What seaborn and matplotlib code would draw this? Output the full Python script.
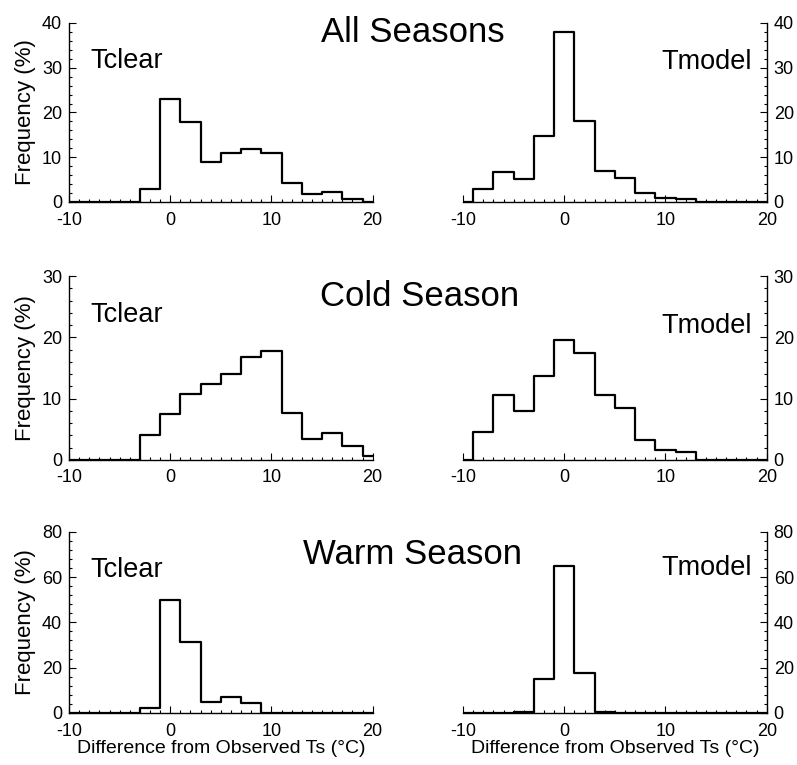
import numpy as np
import pandas as pd
import matplotlib
matplotlib.use("Agg")
import matplotlib.pyplot as plt
from matplotlib.ticker import MultipleLocator
import seaborn as sns

# bin centres (2 degree bins)
centers = [-10, -8, -6, -4, -2, 0, 2, 4, 6, 8, 10, 12, 14, 16, 18, 20]

all_tclear = [0, 0, 0, 0, 2.8, 23.1, 17.9, 9.0, 11.0, 11.8, 11.0, 4.3, 1.7, 2.2, 0.7, 0]
all_tmodel = [0, 2.8, 6.7, 5.1, 14.8, 38.0, 18.2, 7.0, 5.3, 2.0, 0.9, 0.6, 0, 0, 0, 0]
cold_tclear = [0, 0, 0, 0, 4.0, 7.5, 10.7, 12.3, 14.0, 16.8, 17.7, 7.7, 3.4, 4.4, 2.2, 0.6]
cold_tmodel = [0, 4.5, 10.6, 7.9, 13.7, 19.6, 17.5, 10.6, 8.5, 3.3, 1.6, 1.3, 0, 0, 0, 0]
warm_tclear = [0, 0, 0, 0, 2.4, 50.0, 31.3, 4.7, 7.2, 4.4, 0, 0, 0, 0, 0, 0]
warm_tmodel = [0, 0, 0, 0.3, 15.1, 65.0, 17.6, 0.3, 0, 0, 0, 0, 0, 0, 0, 0]

titles = ["All Seasons", "Cold Season", "Warm Season"]
ymax = [40, 30, 80]
ystep = [10, 10, 20]

sns.set_style("ticks")
plt.rcParams['font.family'] = ['Liberation Sans', 'DejaVu Sans']
plt.rcParams['axes.unicode_minus'] = False
for k in ['text.color', 'axes.labelcolor', 'xtick.color', 'ytick.color', 'axes.edgecolor']:
    plt.rcParams[k] = 'black'

fig = plt.figure(figsize=(7.97, 7.65), dpi=100)

rows = [(0.736, 0.234), (0.399, 0.240), (0.068, 0.237)]
left_x = 0.0866
right_x = 0.581
w = 0.381

series = [(all_tclear, all_tmodel), (cold_tclear, cold_tmodel), (warm_tclear, warm_tmodel)]
bins = list(range(-11, 22, 2))
title_pos = [(0.518, 0.958), (0.526, 0.612), (0.518, 0.275)]
tmodel_y = [0.74, 0.69, 0.76]

for i in range(3):
    y0, h = rows[i]
    for j in range(2):
        ax = fig.add_axes([left_x if j == 0 else right_x, y0, w, h])
        df = pd.DataFrame({"x": centers, "f": series[i][j]})
        sns.histplot(data=df, x="x", weights="f", bins=bins, element="step",
                     fill=False, color="black", linewidth=1.6, ax=ax)
        ax.set_xlim(-10, 20)
        ax.set_ylim(0, ymax[i])
        ax.set_yticks(np.arange(0, ymax[i] + 1, ystep[i]))
        ax.set_xticks([-10, 0, 10, 20])
        ax.xaxis.set_minor_locator(MultipleLocator(1))
        ax.yaxis.set_minor_locator(MultipleLocator(ystep[i] / 5))
        ax.tick_params(which="both", direction="in", labelsize=13, width=0.8)
        ax.tick_params(which="major", length=5)
        ax.tick_params(which="minor", length=2.5)
        ax.tick_params(axis="x", pad=7)
        ax.tick_params(axis="y", pad=5)
        ax.set_xlabel("")
        ax.set_ylabel("")
        for s in ax.spines.values():
            s.set_linewidth(1.0)
        ax.spines["top"].set_visible(False)
        if j == 0:
            ax.spines["right"].set_visible(False)
            ax.set_ylabel("Frequency (%)", fontsize=16, labelpad=4)
            ax.text(0.069, 0.75, "Tclear", transform=ax.transAxes, fontsize=19.5,
                    ha="left", va="baseline")
        else:
            ax.spines["left"].set_visible(False)
            ax.yaxis.tick_right()
            ax.yaxis.set_label_position("right")
            ax.text(0.95, tmodel_y[i], "Tmodel", transform=ax.transAxes, fontsize=19.5,
                    ha="right", va="baseline")
        if i == 2:
            ax.set_xlabel("Difference from Observed Ts (\u00b0C)", fontsize=14, labelpad=0)
    fig.text(title_pos[i][0], title_pos[i][1], titles[i], fontsize=25,
             ha="center", va="center")

fig.savefig("out.png", dpi=100)
